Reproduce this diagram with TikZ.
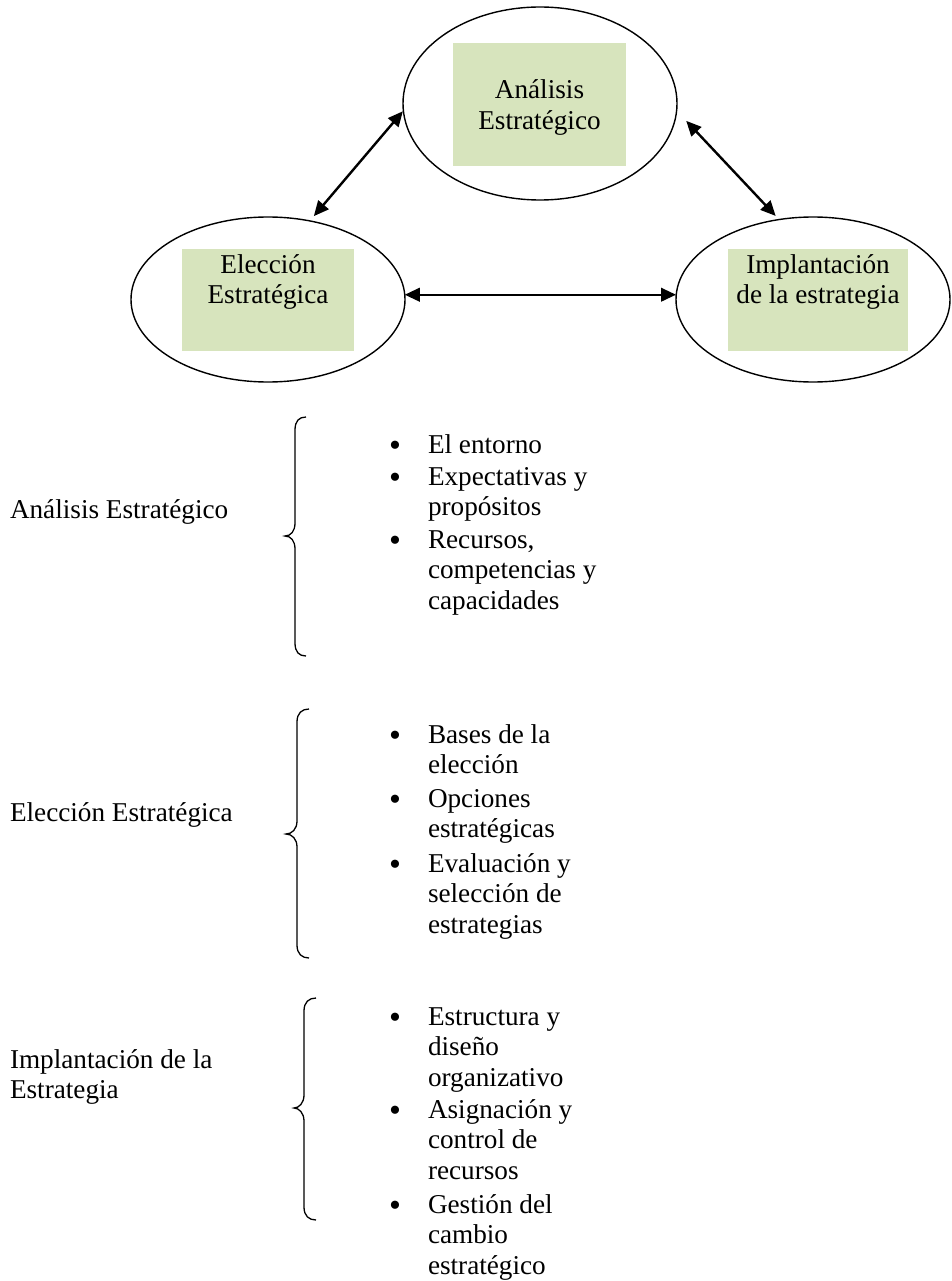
\documentclass[tikz,border=0pt]{standalone}
\usepackage{fontspec}
\setmainfont{Liberation Serif}
\usetikzlibrary{shapes.geometric,arrows.meta}
\definecolor{boxgreen}{RGB}{215,228,189}
\begin{document}
\begin{tikzpicture}[x=1pt,y=-1pt,
  every node/.style={inner sep=0pt, outer sep=0pt},
  txt/.style={font=\fontsize{27.2}{30.5}\selectfont},
  phase/.style={ellipse, draw, line width=1.4pt, minimum width=274pt},
  greenbox/.style={fill=boxgreen},
  boxtext/.style={txt, anchor=base, align=center},
  link/.style={line width=2.4pt,
    {Triangle[length=15pt,width=13.5pt]}-{Triangle[length=15pt,width=13.5pt]}},
  brace/.style={line width=1.3pt},
  bulletmark/.style={anchor=base, yshift=-3pt, font=\fontsize{34}{34}\selectfont},
  itemtext/.style={txt, anchor=base west, align=left},
  sidelabel/.style={txt, anchor=base west, align=left}]

\useasboundingbox[fill=white] (0,0) rectangle (952,1281);

% --- cycle of the three phases ---
\node[phase, minimum height=193pt] (anal) at (540,103.5) {};
\node[phase, minimum height=165pt] (elec) at (268,299.5) {};
\node[phase, minimum height=165pt] (impl) at (813,299.5) {};

\node[greenbox, minimum width=173pt, minimum height=123pt] (ganal) at (539.5,104.5) {};
\node[greenbox, minimum width=172pt, minimum height=102pt] (gelec) at (268,300) {};
\node[greenbox, minimum width=180pt, minimum height=102pt] (gimpl) at (818,300) {};

% multi-line nodes sit on the baseline of their last line
\node[boxtext] (tanal) at (539.5,129.5) {Análisis\\Estratégico};
\node[boxtext] (telec) at (268,303.5) {Elección\\Estratégica};
\node[boxtext] (timpl) at (818,303.5) {Implantación\\de la estrategia};

\draw[link, shorten <=6.3pt, shorten >=0.8pt] (elec.62.6) -- (anal.183.7);
\draw[link, shorten <=14pt, shorten >=5pt] (anal.-3.9) -- (impl.113.4);
\draw[link] (elec.2.7) -- (elec.2.7 -| impl.west);

% --- phase 1 ---
\node[sidelabel] (lab1) at (10,518) {Análisis Estratégico};
\draw[brace] (306,417) .. controls (299,417) and (295,421) .. (295,430)
  -- (295,523) .. controls (295,531) and (291,536) .. (285,536)
  .. controls (291,536) and (295,541) .. (295,549)
  -- (295,643) .. controls (295,652) and (299,656) .. (306,656);
\node[bulletmark] (b11) at (395,453) {•};
\node[itemtext] (i11) at (428,453) {El entorno};
\node[bulletmark] (b12) at (395,485) {•};
\node[itemtext] (i12) at (428,515.5) {Expectativas y\\propósitos};
\node[bulletmark] (b13) at (395,548) {•};
\node[itemtext] (i13) at (428,609) {Recursos,\\competencias y\\capacidades};

% --- phase 2 ---
\node[sidelabel] (lab2) at (10,821) {Elección Estratégica};
\draw[brace] (309,709) .. controls (302,709) and (297,713) .. (297,722)
  -- (297,821) .. controls (297,829) and (292,834) .. (286,834)
  .. controls (292,834) and (297,839) .. (297,847)
  -- (297,945) .. controls (297,954) and (302,958) .. (309,958);
\node[bulletmark] (b21) at (395,743) {•};
\node[itemtext] (i21) at (428,773.5) {Bases de la\\elección};
\node[bulletmark] (b22) at (395,807) {•};
\node[itemtext] (i22) at (428,837.5) {Opciones\\estratégicas};
\node[bulletmark] (b23) at (395,872) {•};
\node[itemtext] (i23) at (428,933) {Evaluación y\\selección de\\estrategias};

% --- phase 3 ---
\node[sidelabel] (lab3) at (10,1098.5) {Implantación de la\\Estrategia};
\draw[brace] (316,998) .. controls (309,998) and (304,1002) .. (304,1011)
  -- (304,1095) .. controls (304,1103) and (299,1108) .. (294,1108)
  .. controls (299,1108) and (304,1113) .. (304,1121)
  -- (304,1207) .. controls (304,1216) and (309,1220) .. (316,1220);
\node[bulletmark] (b31) at (395,1025) {•};
\node[itemtext] (i31) at (428,1086) {Estructura y\\diseño\\organizativo};
\node[bulletmark] (b32) at (395,1118) {•};
\node[itemtext] (i32) at (428,1179) {Asignación y\\control de\\recursos};
\node[bulletmark] (b33) at (395,1213) {•};
\node[itemtext] (i33) at (428,1274) {Gestión del\\cambio\\estratégico};
\end{tikzpicture}
\end{document}
